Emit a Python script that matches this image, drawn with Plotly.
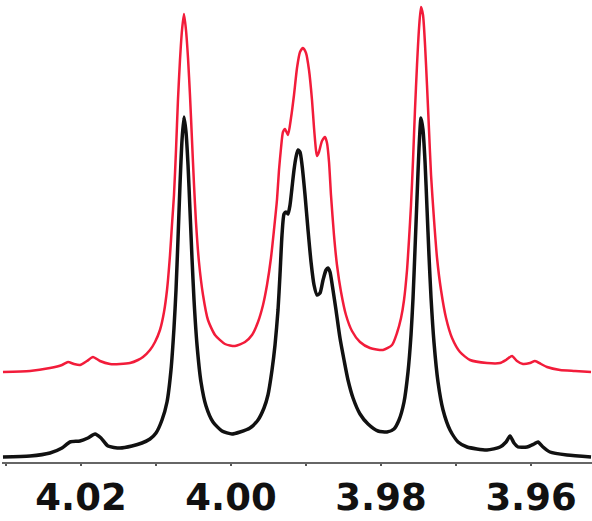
import plotly.graph_objects as go

# chemical shift (ppm) and intensity (a.u.)
black_ppm = [4.03040, 4.02680, 4.02413, 4.02253, 4.02147, 4.02013, 4.01907, 4.01813, 4.01733, 4.01640,
             4.01480, 4.01320, 4.01187, 4.01080, 4.01000, 4.00920, 4.00853, 4.00800, 4.00760, 4.00733,
             4.00707, 4.00680, 4.00653, 4.00627, 4.00600, 4.00573, 4.00547, 4.00520, 4.00493, 4.00453,
             4.00400, 4.00333, 4.00240, 4.00120, 3.99987, 3.99880, 3.99747, 3.99640, 3.99560, 3.99507,
             3.99453, 3.99413, 3.99373, 3.99347, 3.99320, 3.99293, 3.99267, 3.99240, 3.99213, 3.99187,
             3.99160, 3.99133, 3.99107, 3.99080, 3.99053, 3.99013, 3.98973, 3.98933, 3.98893, 3.98853,
             3.98813, 3.98773, 3.98733, 3.98707, 3.98680, 3.98640, 3.98600, 3.98547, 3.98493, 3.98440,
             3.98373, 3.98280, 3.98173, 3.98040, 3.97920, 3.97827, 3.97760, 3.97693, 3.97640, 3.97600,
             3.97573, 3.97547, 3.97520, 3.97493, 3.97467, 3.97440, 3.97413, 3.97387, 3.97360, 3.97333,
             3.97293, 3.97240, 3.97173, 3.97080, 3.96973, 3.96853, 3.96587, 3.96413, 3.96333, 3.96280,
             3.96227, 3.96173, 3.96053, 3.95960, 3.95907, 3.95840, 3.95747, 3.95520, 3.95200]
black_int = [0.05, 0.06, 0.09, 0.14, 0.20, 0.21, 0.24, 0.28, 0.24, 0.16,
             0.14, 0.16, 0.19, 0.23, 0.29, 0.42, 0.60, 0.92, 1.34, 1.72,
             2.22, 2.77, 3.22, 3.45, 3.30, 2.97, 2.52, 2.04, 1.62, 1.17,
             0.80, 0.56, 0.40, 0.31, 0.28, 0.30, 0.34, 0.42, 0.54, 0.67,
             0.92, 1.17, 1.52, 1.87, 2.27, 2.48, 2.50, 2.48, 2.57, 2.74,
             2.92, 3.05, 3.12, 3.10, 2.97, 2.67, 2.32, 2.00, 1.77, 1.67,
             1.69, 1.82, 1.92, 1.94, 1.90, 1.72, 1.52, 1.24, 1.02, 0.82,
             0.64, 0.48, 0.38, 0.31, 0.30, 0.33, 0.42, 0.60, 0.90, 1.27,
             1.64, 2.12, 2.64, 3.14, 3.44, 3.32, 3.00, 2.54, 2.06, 1.64,
             1.19, 0.80, 0.52, 0.32, 0.20, 0.15, 0.12, 0.15, 0.20, 0.26,
             0.19, 0.15, 0.15, 0.18, 0.20, 0.15, 0.10, 0.07, 0.05]

red_ppm = [4.03040, 4.02680, 4.02413, 4.02253, 4.02173, 4.02093, 4.02013, 4.01920, 4.01840, 4.01747,
           4.01613, 4.01480, 4.01347, 4.01240, 4.01173, 4.01080, 4.01013, 4.00947, 4.00893, 4.00853,
           4.00813, 4.00787, 4.00760, 4.00733, 4.00707, 4.00680, 4.00653, 4.00627, 4.00600, 4.00573,
           4.00547, 4.00520, 4.00493, 4.00467, 4.00427, 4.00373, 4.00307, 4.00213, 4.00080, 3.99947,
           3.99813, 3.99720, 3.99640, 3.99573, 3.99520, 3.99467, 3.99427, 3.99387, 3.99360, 3.99333,
           3.99307, 3.99280, 3.99240, 3.99200, 3.99160, 3.99120, 3.99080, 3.99040, 3.99000, 3.98960,
           3.98920, 3.98893, 3.98867, 3.98853, 3.98827, 3.98787, 3.98747, 3.98720, 3.98693, 3.98667,
           3.98627, 3.98587, 3.98533, 3.98467, 3.98387, 3.98280, 3.98147, 3.97973, 3.97853, 3.97787,
           3.97733, 3.97693, 3.97653, 3.97627, 3.97600, 3.97573, 3.97547, 3.97520, 3.97493, 3.97467,
           3.97440, 3.97413, 3.97387, 3.97360, 3.97333, 3.97293, 3.97253, 3.97200, 3.97133, 3.97053,
           3.96947, 3.96813, 3.96587, 3.96413, 3.96333, 3.96253, 3.96187, 3.96107, 3.96013, 3.95947,
           3.95867, 3.95787, 3.95613, 3.95413, 3.95200]
red_int = [0.90, 0.91, 0.94, 0.97, 1.00, 0.98, 0.97, 1.01, 1.05, 1.01,
           0.98, 0.98, 0.99, 1.02, 1.05, 1.12, 1.20, 1.32, 1.50, 1.72,
           2.07, 2.37, 2.67, 3.12, 3.62, 4.02, 4.32, 4.48, 4.32, 4.04,
           3.67, 3.22, 2.77, 2.40, 2.00, 1.67, 1.42, 1.27, 1.18, 1.16,
           1.20, 1.27, 1.40, 1.57, 1.77, 2.04, 2.32, 2.62, 2.92, 3.14,
           3.30, 3.33, 3.27, 3.44, 3.67, 3.94, 4.10, 4.14, 4.09, 3.92,
           3.62, 3.34, 3.12, 3.06, 3.10, 3.21, 3.25, 3.19, 3.00, 2.67,
           2.27, 1.97, 1.70, 1.47, 1.31, 1.20, 1.14, 1.12, 1.17, 1.29,
           1.44, 1.62, 1.92, 2.22, 2.57, 3.02, 3.52, 3.97, 4.34, 4.55,
           4.47, 4.17, 3.77, 3.32, 2.87, 2.42, 2.04, 1.72, 1.44, 1.24,
           1.10, 1.02, 0.99, 0.99, 1.02, 1.06, 1.01, 0.98, 0.99, 1.01,
           0.98, 0.95, 0.92, 0.91, 0.90]

tick_vals = [4.03, 4.02, 4.01, 4.00, 3.99, 3.98, 3.97, 3.96, 3.95]
tick_text = ["", "4.02", "", "4.00", "", "3.98", "", "3.96", ""]

fig = go.Figure()
fig.add_trace(go.Scatter(x=red_ppm, y=red_int, mode="lines",
                         line=dict(color="#f21c3a", width=2.5, shape="spline", smoothing=0.6)))
fig.add_trace(go.Scatter(x=black_ppm, y=black_int, mode="lines",
                         line=dict(color="#111111", width=3.5, shape="spline", smoothing=0.6)))

fig.update_layout(
    width=592, height=521,
    margin=dict(l=2, r=0, t=0, b=59),
    paper_bgcolor="white", plot_bgcolor="white",
    showlegend=False,
    xaxis=dict(range=[4.03053, 3.95187], tickvals=tick_vals, ticktext=tick_text,
               ticks="outside", ticklen=2, tickwidth=1.5, tickcolor="#555555",
               showline=True, linecolor="#666666", linewidth=2, showgrid=False, zeroline=False,
               tickfont=dict(family="DejaVu Sans", size=37, color="#111111", weight="bold"),
               automargin=False),
    yaxis=dict(range=[0, 4.62], visible=False, showgrid=False, zeroline=False),
)

# the page body has a default 8px margin; drop it so the figure sits at the window corner
fig.write_html("out.html", config={"displayModeBar": False},
               post_script="document.body.style.margin = '0';")
